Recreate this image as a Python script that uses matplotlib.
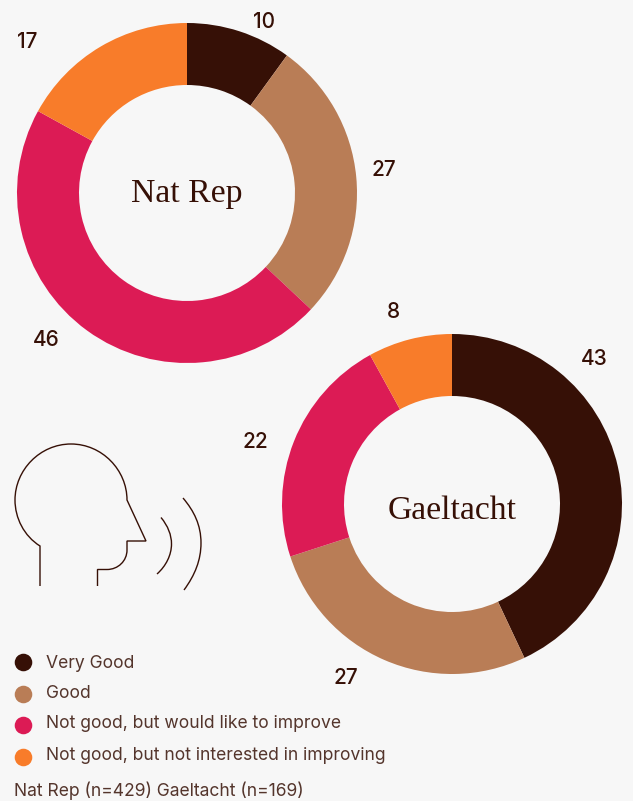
import matplotlib
matplotlib.use('Agg')
import matplotlib.pyplot as plt
from matplotlib.path import Path
from matplotlib.patches import PathPatch

# Data
categories = ['Very Good', 'Good', 'Not good, but would like to improve', 'Not good, but not interested in improving']
nat_rep = [10, 27, 46, 17]
gaeltacht = [43, 27, 22, 8]
note = 'Nat Rep (n=429) Gaeltacht (n=169)'

colors = ['#361006', '#b97d56', '#dc1b55', '#f87c2a']
ink = '#361006'
soft_ink = '#54352c'
bg = '#f7f7f7'
H = 801

plt.rcParams['font.family'] = ['Inter', 'DejaVu Sans']

fig = plt.figure(figsize=(6.33, 8.01), dpi=100, facecolor=bg)
ax = fig.add_axes([0, 0, 1, 1])
ax.set_xlim(0, 633)
ax.set_ylim(0, H)
ax.set_aspect('equal')
ax.axis('off')


def donut(values, cx, cy, name, base_y, label_pos):
    ax.pie(values, colors=colors, startangle=90, counterclock=False, radius=170,
           center=(cx, H - cy), frame=True, wedgeprops=dict(width=62, linewidth=0))
    ax.text(cx, H - base_y, name, ha='center', va='baseline', fontsize=24.3,
            family=['Liberation Serif'], color=ink)
    for v, (x, y) in zip(values, label_pos):
        ax.text(x, H - y, str(v), ha='center', va='center', fontsize=15,
                fontweight='medium', color=ink)


donut(nat_rep, 187, 193, 'Nat Rep', 202, [(264, 22), (384, 170), (46, 340), (27, 42)])
donut(gaeltacht, 452, 504, 'Gaeltacht', 519, [(594, 359), (346, 678), (255, 442), (393, 312)])

# pie resets the limits
ax.set_xlim(0, 633)
ax.set_ylim(0, H)
ax.axis('off')


def icon_line(verts, codes):
    p = Path([(x, H - y) for x, y in verts], codes)
    ax.add_patch(PathPatch(p, fill=False, edgecolor=ink, linewidth=1.0, capstyle='butt'))


# head outline
M, L, C = Path.MOVETO, Path.LINETO, Path.CURVE4
icon_line([(40, 586), (40, 546),
           (24, 536), (15, 518), (15, 500),
           (15, 470), (40, 444), (71, 444),
           (102, 444), (127, 470), (127, 500),
           (146, 541), (127, 541), (127, 550),
           (127, 561), (118, 569.5), (107, 569.5),
           (97.5, 569.5), (97.5, 586)],
          [M, L, C, C, C, C, C, C, C, C, C, L, L, L, C, C, C, L, L])

# sound waves
icon_line([(161, 517.5), (168, 526), (171.5, 535), (171.5, 544)], [M, C, C, C])
icon_line([(171.5, 544), (171.5, 555), (166, 566), (157, 574)], [M, C, C, C])
icon_line([(183, 498), (194, 511), (201, 525), (201, 543)], [M, C, C, C])
icon_line([(201, 543), (201, 560), (195, 575), (184, 590)], [M, C, C, C])

# legend
legend_y = [662, 694, 725, 757]
text_y = [663, 693, 723, 756]
for cat, col, ly, ty in zip(categories, colors, legend_y, text_y):
    ax.scatter([23], [H - ly], s=160, color=col, linewidths=0, zorder=3)
    ax.text(46, H - ty, cat, ha='left', va='center', fontsize=12.6, color=soft_ink)
ax.text(14, H - 791, note, ha='left', va='center', fontsize=12.6, color=soft_ink)

fig.savefig('out.png', dpi=100, facecolor=bg)
